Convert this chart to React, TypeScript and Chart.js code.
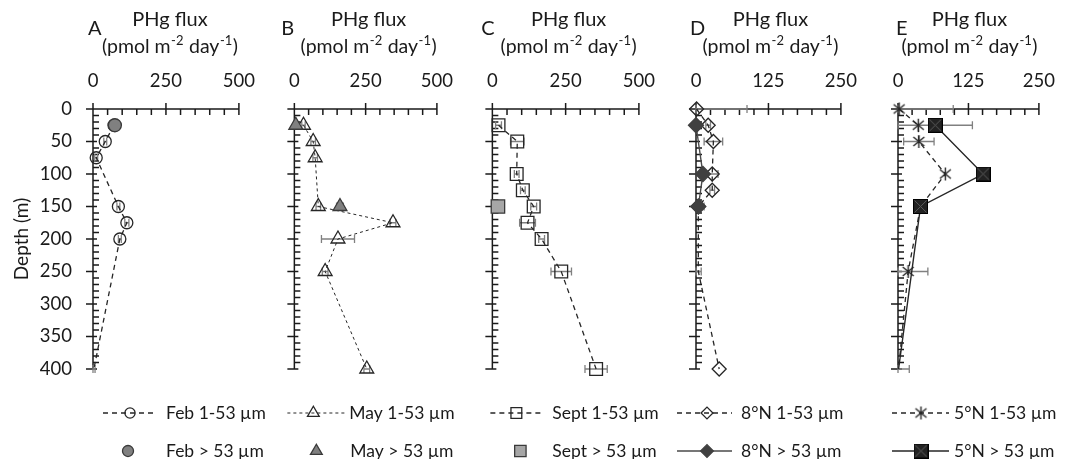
import React, { useEffect, useRef } from "react";
import { Chart, registerables } from "chart.js";
import { drawPoint } from "chart.js/helpers";

Chart.register(...registerables);

const FAMILY = "Lato, 'Liberation Sans', sans-serif";
const INK = "#1a1a1a";

// ---------- data ----------
const depthTicks = [0, 50, 100, 150, 200, 250, 300, 350, 400];
const wideTicks = [0, 250, 500];
const narrowTicks = [0, 125, 250];

const febDepths = [25, 50, 75, 150, 175, 200, 400];
const febSmall = [72, 42, 11, 87, 116, 92, 3];
const febSmallErr = [4, 5, 5, 5, 7, 5, 4];
const febLargeDepths = [25];
const febLarge = [75];

const mayDepths = [25, 50, 75, 150, 175, 200, 250, 400];
const maySmall = [32, 66, 73, 84, 346, 153, 108, 254];
const maySmallErr = [6, 8, 8, 8, 10, 58, 10, 10];
const mayLargeDepths = [25, 150];
const mayLarge = [5, 160];
const mayLargeErr = [0, 12];

const septDepths = [25, 50, 100, 125, 150, 175, 200, 250, 400];
const septSmall = [21, 85, 83, 104, 141, 120, 168, 235, 354];
const septSmallErr = [10, 23, 8, 8, 10, 27, 10, 35, 38];
const septLargeDepths = [150];
const septLarge = [19];

const n8Depths = [0, 25, 50, 100, 125, 150, 250, 400];
const n8Small = [1, 21, 30, 28, 28, 4, 4, 40];
const n8SmallErr = [87, 4, 16, 10, 4, 10, 5, 0];
const n8LargeDepths = [25, 100, 150];
const n8Large = [0, 12, 4];

const n5Depths = [0, 25, 50, 100, 150, 250, 400];
const n5Small = [2, 36, 37, 84, 40, 18, 1];
const n5SmallErr = [96, 96, 27, 0, 0, 35, 19];
const n5LargeDepths = [25, 100, 150, 400];
const n5Large = [66, 151, 40, 1];

// ---------- marker images ----------
function makeAsterisk(): HTMLCanvasElement {
  const c = document.createElement("canvas");
  c.width = 15;
  c.height = 15;
  const g = c.getContext("2d")!;
  g.strokeStyle = "#262626";
  g.lineWidth = 1.4;
  g.beginPath();
  g.moveTo(7.5, 1);
  g.lineTo(7.5, 14);
  g.moveTo(2, 3);
  g.lineTo(13, 12);
  g.moveTo(2, 12);
  g.lineTo(13, 3);
  g.stroke();
  return c;
}
function makeXSquare(): HTMLCanvasElement {
  const c = document.createElement("canvas");
  c.width = 15;
  c.height = 15;
  const g = c.getContext("2d")!;
  g.fillStyle = "#222";
  g.fillRect(0.5, 0.5, 14, 14);
  g.strokeStyle = "#000";
  g.lineWidth = 1;
  g.strokeRect(0.5, 0.5, 14, 14);
  g.strokeStyle = "#5a5a5a";
  g.beginPath();
  g.moveTo(1.5, 1.5);
  g.lineTo(13.5, 13.5);
  g.moveTo(13.5, 1.5);
  g.lineTo(1.5, 13.5);
  g.stroke();
  return c;
}

type Series = {
  label: string;
  depths: number[];
  values: number[];
  errors?: number[];
  marker: any;
  radius: number;
  fill: string;
  stroke: string;
  line: "dash" | "fine" | "solid" | "none";
  lineColor?: string;
  hideNearAxisDeep?: boolean;
};

type LegendGeom = { x1?: number; x2?: number; mx: number; tx: number };

type Panel = {
  letter: string;
  canvasLeft: number;
  width: number;
  chartLeft: number;
  chartRight: number;
  xMax: number;
  xTicks: number[];
  showY: boolean;
  letterDx: number;
  titleDx: number;
  series: Series[]; // [small, large]
  legend: LegendGeom[];
};

function buildPanels(): Panel[] {
  const asterisk = makeAsterisk();
  const xsq = makeXSquare();
  return [
    {
      letter: "A", canvasLeft: 0, width: 272, chartLeft: 93, chartRight: 252, xMax: 500, xTicks: wideTicks, showY: true, letterDx: -5, titleDx: 4,
      series: [
        { label: "Feb 1-53 µm", depths: febDepths, values: febSmall, errors: febSmallErr, marker: "circle", radius: 6, fill: "rgba(0,0,0,0)", stroke: "#262626", line: "dash", hideNearAxisDeep: true },
        { label: "Feb > 53 µm", depths: febLargeDepths, values: febLarge, marker: "circle", radius: 6.5, fill: "#808080", stroke: "#3a3a3a", line: "none" },
      ],
      legend: [ { x1: 10, x2: 64, mx: 37, tx: 73 }, { mx: 35, tx: 73 } ],
    },
    {
      letter: "B", canvasLeft: 272, width: 198, chartLeft: 289, chartRight: 448, xMax: 500, xTicks: wideTicks, showY: false, letterDx: -13, titleDx: 3,
      series: [
        { label: "May 1-53 µm", depths: mayDepths, values: maySmall, errors: maySmallErr, marker: "triangle", radius: 8, fill: "rgba(0,0,0,0)", stroke: "#262626", line: "fine" },
        { label: "May > 53 µm", depths: mayLargeDepths, values: mayLarge, errors: mayLargeErr, marker: "triangle", radius: 8, fill: "#808080", stroke: "#3a3a3a", line: "none" },
      ],
      legend: [ { x1: -7, x2: 51, mx: 19, tx: 55 }, { mx: 22, tx: 56 } ],
    },
    {
      letter: "C", canvasLeft: 470, width: 202, chartLeft: 492, chartRight: 649, xMax: 500, xTicks: wideTicks, showY: false, letterDx: -11, titleDx: 3,
      series: [
        { label: "Sept 1-53 µm", depths: septDepths, values: septSmall, errors: septSmallErr, marker: "rect", radius: 9, fill: "rgba(0,0,0,0)", stroke: "#262626", line: "dash" },
        { label: "Sept > 53 µm", depths: septLargeDepths, values: septLarge, marker: "rect", radius: 9.5, fill: "#a6a6a6", stroke: "#3a3a3a", line: "none" },
      ],
      legend: [ { x1: -2, x2: 51, mx: 24, tx: 60 }, { mx: 28, tx: 60 } ],
    },
    {
      letter: "D", canvasLeft: 672, width: 202, chartLeft: 696, chartRight: 852, xMax: 250, xTicks: narrowTicks, showY: false, letterDx: -6, titleDx: 2,
      series: [
        { label: "8°N 1-53 µm", depths: n8Depths, values: n8Small, errors: n8SmallErr, marker: "rectRot", radius: 7, fill: "rgba(0,0,0,0)", stroke: "#262626", line: "dash", hideNearAxisDeep: true },
        { label: "8°N > 53 µm", depths: n8LargeDepths, values: n8Large, marker: "rectRot", radius: 7.5, fill: "#404040", stroke: "#404040", line: "solid", lineColor: "#4a4a4a" },
      ],
      legend: [ { x1: -19, x2: 36, mx: 11, tx: 45 }, { x1: -19, x2: 36, mx: 11, tx: 45 } ],
    },
    {
      letter: "E", canvasLeft: 874, width: 198, chartLeft: 898, chartRight: 1054, xMax: 250, xTicks: narrowTicks, showY: false, letterDx: -2, titleDx: 1,
      series: [
        { label: "5°N 1-53 µm", depths: n5Depths, values: n5Small, errors: n5SmallErr, marker: asterisk, radius: 7, fill: "rgba(0,0,0,0)", stroke: "#262626", line: "dash", hideNearAxisDeep: true },
        { label: "5°N > 53 µm", depths: n5LargeDepths, values: n5Large, marker: xsq, radius: 7, fill: "#222", stroke: "#000", line: "solid", lineColor: "#262626", hideNearAxisDeep: true },
      ],
      legend: [ { x1: -6, x2: 51, mx: 23, tx: 56 }, { x1: -6, x2: 51, mx: 23, tx: 56 } ],
    },
  ];
}

function dashFor(s: Series): number[] {
  if (s.line === "dash") return [5, 4];
  if (s.line === "fine") return [3, 3];
  return [];
}
function widthFor(s: Series): number {
  if (s.line === "fine") return 1;
  if (s.line === "solid") return 1.4;
  return 1.3;
}

// ---------- plugins ----------
const axesPlugin = {
  id: "customAxes",
  beforeDatasetsDraw(chart: any) {
    const panel: Panel = chart.options.plugins.customAxes.panel;
    const { ctx, chartArea: a } = chart;
    const x = chart.scales.x;
    const y = chart.scales.y;
    ctx.save();
    ctx.strokeStyle = INK;
    ctx.lineWidth = 1.5;
    ctx.beginPath();
    ctx.moveTo(a.left, a.top);
    ctx.lineTo(a.right, a.top);
    ctx.moveTo(a.left, a.top);
    ctx.lineTo(a.left, a.bottom);
    panel.xTicks.forEach((v) => {
      const px = x.getPixelForValue(v);
      ctx.moveTo(px, a.top - 6);
      ctx.lineTo(px, a.top + 6);
    });
    const minor = panel.xTicks[1] / 5;
    for (let v = minor; v < panel.xMax; v += minor) {
      if (panel.xTicks.some((t) => Math.abs(t - v) < 1e-6)) continue;
      const px = x.getPixelForValue(v);
      ctx.moveTo(px, a.top);
      ctx.lineTo(px, a.top + 6);
    }
    depthTicks.forEach((d) => {
      const py = y.getPixelForValue(d);
      ctx.moveTo(a.left - 7, py);
      ctx.lineTo(a.left + 4, py);
    });
    for (let d = 10; d < 400; d += 10) {
      if (d % 50 === 0) continue;
      const py = y.getPixelForValue(d);
      ctx.moveTo(a.left, py);
      ctx.lineTo(a.left + 6, py);
    }
    ctx.stroke();

    // error bars
    ctx.strokeStyle = "#808080";
    ctx.lineWidth = 1.3;
    ctx.beginPath();
    chart.data.datasets.forEach((ds: any) => {
      if (!ds.errors) return;
      ds.data.forEach((p: any, i: number) => {
        const e = ds.errors[i];
        if (!e) return;
        const py = y.getPixelForValue(p.y);
        const xl = x.getPixelForValue(Math.max(0, p.x - e));
        const xr = x.getPixelForValue(p.x + e);
        ctx.moveTo(xl, py);
        ctx.lineTo(xr, py);
        ctx.moveTo(xl, py - 4);
        ctx.lineTo(xl, py + 4);
        ctx.moveTo(xr, py - 4);
        ctx.lineTo(xr, py + 4);
      });
    });
    ctx.stroke();
    ctx.restore();
  },
  afterDraw(chart: any) {
    const panel: Panel = chart.options.plugins.customAxes.panel;
    const { ctx, chartArea: a } = chart;
    ctx.save();
    ctx.fillStyle = INK;
    ctx.textBaseline = "middle";
    // letter
    ctx.font = `20px ${FAMILY}`;
    ctx.textAlign = "left";
    ctx.fillText(panel.letter, a.left + panel.letterDx, 29);
    // title lines
    const cx = (a.left + a.right) / 2 + panel.titleDx;
    ctx.font = `20px ${FAMILY}`;
    ctx.textAlign = "center";
    ctx.fillText("PHg flux", cx, 20);
    const parts: [string, boolean][] = [["(pmol m", false], ["-2", true], [" day", false], ["-1", true], [")", false]];
    const fontFor = (sup: boolean) => (sup ? `13px ${FAMILY}` : `19.5px ${FAMILY}`);
    let total = 0;
    parts.forEach(([t, sup]) => {
      ctx.font = fontFor(sup);
      total += ctx.measureText(t).width + (sup ? 1 : 0);
    });
    let xx = cx - total / 2;
    ctx.textAlign = "left";
    parts.forEach(([t, sup]) => {
      ctx.font = fontFor(sup);
      ctx.fillText(t, xx + (sup ? 0.5 : 0), sup ? 41 : 47);
      xx += ctx.measureText(t).width + (sup ? 1 : 0);
    });

    // legend
    const rows = [413, 451];
    panel.series.forEach((s, i) => {
      const g = panel.legend[i];
      const yy = rows[i];
      if (g.x1 !== undefined && g.x2 !== undefined && s.line !== "none") {
        ctx.save();
        ctx.strokeStyle = s.lineColor || "#262626";
        ctx.lineWidth = widthFor(s);
        ctx.setLineDash(dashFor(s));
        ctx.beginPath();
        ctx.moveTo(a.left + g.x1, yy);
        ctx.lineTo(a.left + g.x2, yy);
        ctx.stroke();
        ctx.restore();
      }
      ctx.save();
      ctx.fillStyle = s.fill;
      ctx.strokeStyle = s.stroke;
      ctx.lineWidth = 1.3;
      drawPoint(ctx, { pointStyle: s.marker, rotation: 0, radius: s.radius * 0.85, borderWidth: 1.3 } as any, a.left + g.mx, yy);
      ctx.restore();
      ctx.fillStyle = INK;
      ctx.font = `17.5px ${FAMILY}`;
      ctx.textAlign = "left";
      ctx.textBaseline = "middle";
      ctx.fillText(s.label, a.left + g.tx, yy);
    });
    ctx.restore();
  },
};

function buildChart(canvas: HTMLCanvasElement, panel: Panel): Chart {
  const datasets = panel.series.map((s, idx) => ({
    label: s.label,
    data: s.depths.map((d, i) => ({ x: s.values[i], y: d })),
    errors: s.errors,
    showLine: s.line !== "none",
    borderColor: s.lineColor || "#262626",
    borderWidth: widthFor(s),
    borderDash: dashFor(s),
    pointStyle: s.marker,
    pointRadius: (c: any) =>
      s.hideNearAxisDeep && c.raw && c.raw.x <= 5 && c.raw.y >= 250 ? 0 : s.radius,
    pointBackgroundColor: s.fill,
    pointBorderColor: s.stroke,
    pointBorderWidth: 1.3,
    clip: false as any,
    tension: 0,
    order: idx === 0 ? 2 : 1,
  }));
  return new Chart(canvas, {
    type: "scatter",
    data: { datasets } as any,
    options: {
      animation: false,
      responsive: false,
      maintainAspectRatio: false,
      events: [],
      layout: {
        padding: { top: 60, bottom: 90, left: 0, right: panel.width - (panel.chartRight - panel.canvasLeft) },
      },
      plugins: {
        legend: { display: false },
        tooltip: { enabled: false },
        customAxes: { panel },
      } as any,
      scales: {
        x: {
          type: "linear",
          position: "top",
          min: 0,
          max: panel.xMax,
          grid: { display: false, drawTicks: false },
          border: { display: false },
          ticks: { font: { family: FAMILY, size: 18.5 }, color: INK, padding: 17, maxRotation: 0, autoSkip: false },
          afterBuildTicks: (s: any) => {
            s.ticks = panel.xTicks.map((v) => ({ value: v }));
          },
          afterFit: (s: any) => {
            s.height = 49;
          },
        },
        y: {
          type: "linear",
          reverse: true,
          min: 0,
          max: 400,
          grid: { display: false, drawTicks: false },
          border: { display: false },
          ticks: { display: panel.showY, font: { family: FAMILY, size: 18.5 }, color: INK, padding: 21, autoSkip: false },
          title: { display: panel.showY, text: "Depth (m)", font: { family: FAMILY, size: 19 }, color: INK, padding: { top: 10, bottom: 0 } },
          afterBuildTicks: (s: any) => {
            s.ticks = depthTicks.map((v) => ({ value: v }));
          },
          afterFit: (s: any) => {
            s.width = panel.chartLeft - panel.canvasLeft;
          },
        },
      } as any,
    },
    plugins: [axesPlugin as any],
  });
}

export default function App() {
  const refs = useRef<(HTMLCanvasElement | null)[]>([]);
  const panelsRef = useRef<Panel[] | null>(null);
  if (!panelsRef.current) panelsRef.current = buildPanels();
  const panels = panelsRef.current;
  useEffect(() => {
    const charts = panels.map((p, i) => buildChart(refs.current[i]!, p));
    return () => charts.forEach((c) => c.destroy());
  }, []);
  return (
    <div style={{ position: "fixed", left: 0, top: 0, width: 1072, height: 459, background: "#fff" }}>
      {panels.map((p, i) => (
        <canvas
          key={p.letter}
          ref={(el) => {
            refs.current[i] = el;
          }}
          width={p.width}
          height={459}
          style={{ position: "absolute", left: p.canvasLeft, top: 0, width: p.width, height: 459 }}
        />
      ))}
    </div>
  );
}
